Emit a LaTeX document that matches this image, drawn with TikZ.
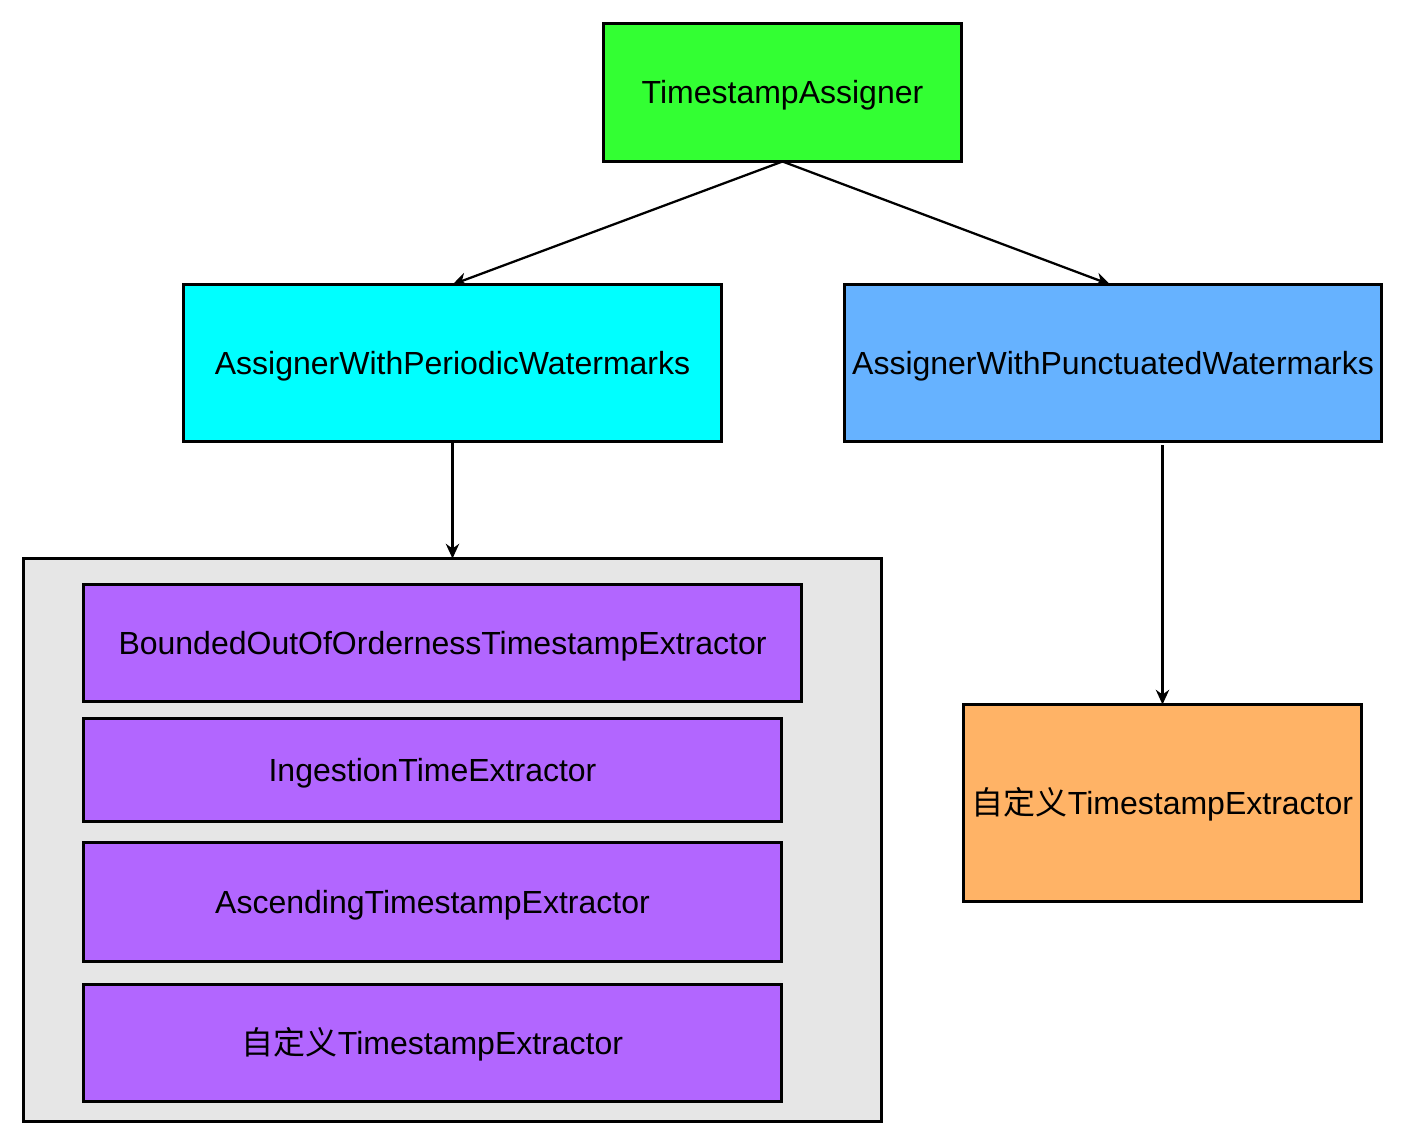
\documentclass[tikz,border=0pt]{standalone}
\usepackage{fontspec}
\setmainfont{Liberation Sans}
\newfontfamily\cjk{Noto Sans CJK SC}
\usetikzlibrary{arrows.meta}
\definecolor{cgreen}{HTML}{33FF33}
\definecolor{ccyan}{HTML}{00FFFF}
\definecolor{cblue}{HTML}{66B2FF}
\definecolor{cgray}{HTML}{E6E6E6}
\definecolor{cpurple}{HTML}{B266FF}
\definecolor{corange}{HTML}{FFB366}
\tikzset{
  box/.style={draw=black, line width=2.9pt, inner sep=0pt, outer sep=0pt,
    font=\fontsize{24}{28}\selectfont, text height=17.2pt, text depth=0pt},
  arr/.style={draw=black, line width=1.7pt, -{Stealth[length=11pt,width=10pt,inset=3.5pt]}}
}
\begin{document}
\begin{tikzpicture}[x=0.75pt,y=-0.75pt]
\useasboundingbox[fill=white] (0,0) rectangle (1404,1144);
\node[box, fill=cgreen, minimum width=358*0.75pt, minimum height=138*0.75pt] (ta) at (782.5,92.5) {TimestampAssigner};
\node[box, fill=ccyan, minimum width=538*0.75pt, minimum height=157*0.75pt] (pw) at (452.5,363) {AssignerWithPeriodicWatermarks};
\node[box, fill=cblue, minimum width=537*0.75pt, minimum height=157*0.75pt] (pu) at (1113,363) {AssignerWithPunctuatedWatermarks};
\node[box, fill=cgray, minimum width=858*0.75pt, minimum height=563*0.75pt] (grp) at (452.5,840) {};
\node[box, fill=cpurple, minimum width=718*0.75pt, minimum height=117*0.75pt] (b1) at (442.5,643) {BoundedOutOfOrdernessTimestampExtractor};
\node[box, fill=cpurple, minimum width=698*0.75pt, minimum height=103*0.75pt] (b2) at (432.5,770) {IngestionTimeExtractor};
\node[box, fill=cpurple, minimum width=698*0.75pt, minimum height=119*0.75pt] (b3) at (432.5,902) {AscendingTimestampExtractor};
\node[box, fill=cpurple, minimum width=698*0.75pt, minimum height=117*0.75pt] (b4) at (432.5,1043) {{\cjk 自定义}TimestampExtractor};
\node[box, fill=corange, minimum width=398*0.75pt, minimum height=197*0.75pt] (cu) at (1162.5,803) {{\cjk 自定义}TimestampExtractor};
\draw[arr] (ta.south) -- (pw.north);
\draw[arr] (ta.south) -- ([xshift=-2.25pt]pu.north);
\draw[arr] (pw.south) -- (grp.north);
\draw[arr, shorten <=3pt] (cu.north |- pu.south) -- (cu.north);
\end{tikzpicture}
\end{document}
